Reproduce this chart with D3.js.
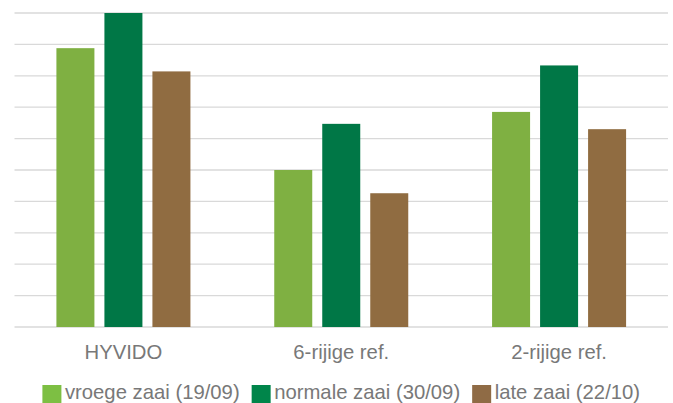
<!DOCTYPE html>
<html>
<head>
<meta charset="utf-8">
<script src="https://cdn.jsdelivr.net/npm/d3@7"></script>
<style>
  body { margin: 0; background: #fff; }
  svg { display: block; }
  svg text { font-family: Arial, "Liberation Sans", Helvetica, sans-serif; }
</style>
</head>
<body>
<div id="chart"></div>
<script>
// --- data ---
const categories = ["HYVIDO", "6-rijige ref.", "2-rijige ref."];
const seriesNames = ["vroege zaai (19/09)", "normale zaai (30/09)", "late zaai (22/10)"];
const vroege = [8.88, 5.0, 6.85];
const normale = [10.0, 6.47, 8.33];
const late = [8.14, 4.26, 6.30];
const colors = ["#7fb042", "#007746", "#906c41"];
const legendColors = ["#7dbf43", "#00854a", "#8f6b45"];

const width = 673, height = 403;
const plotLeft = 14.5, plotRight = 668, plotTop = 13, plotBottom = 327;

const svg = d3.select("#chart").append("svg")
    .attr("width", width)
    .attr("height", height);

const y = d3.scaleLinear().domain([0, 10]).range([plotBottom, plotTop]);

const x0 = d3.scaleBand()
    .domain(categories)
    .range([plotLeft, plotRight])
    .paddingInner(0.3848)
    .paddingOuter(0.1924);

const x1 = d3.scaleBand()
    .domain(d3.range(3))
    .range([0, x0.bandwidth()])
    .paddingInner(10 / 48)
    .paddingOuter(0);

// gridlines
svg.append("g")
  .selectAll("line")
  .data(y.ticks(10))
  .join("line")
    .attr("x1", plotLeft)
    .attr("x2", plotRight)
    .attr("y1", d => y(d))
    .attr("y2", d => y(d))
    .attr("stroke", "#d9d9d9")
    .attr("stroke-width", 1.3);

// bars
const rows = categories.map((c, i) => ({ cat: c, vals: [vroege[i], normale[i], late[i]] }));

svg.append("g")
  .selectAll("g")
  .data(rows)
  .join("g")
    .attr("transform", d => `translate(${x0(d.cat)},0)`)
  .selectAll("rect")
  .data(d => d.vals.map((v, k) => ({ k, v })))
  .join("rect")
    .attr("x", d => x1(d.k))
    .attr("width", x1.bandwidth())
    .attr("y", d => y(d.v))
    .attr("height", d => y(0) - y(d.v))
    .attr("fill", d => colors[d.k]);

// category labels
svg.append("g")
  .selectAll("text")
  .data(categories)
  .join("text")
    .attr("x", d => x0(d) + x0.bandwidth() / 2)
    .attr("y", 359)
    .attr("text-anchor", "middle")
    .attr("font-size", "20.3px")
    .attr("fill", "#787878")
    .text(d => d);

// legend
const legend = svg.append("g");
const sq = 19, gapText = 3.5, gapItem = 12;
const items = legend.selectAll("g")
  .data(seriesNames)
  .join("g");
items.append("rect")
    .attr("width", sq)
    .attr("height", sq)
    .attr("y", 385)
    .attr("fill", (d, i) => legendColors[i]);
items.append("text")
    .attr("x", sq + gapText)
    .attr("y", 399)
    .attr("font-size", "20.3px")
    .attr("fill", "#787878")
    .text(d => d);

let pos = 0;
const offsets = [];
items.each(function() {
  offsets.push(pos);
  const w = d3.select(this).select("text").node().getComputedTextLength();
  pos += sq + gapText + w + gapItem;
});
const total = pos - gapItem;
const startX = (plotLeft + plotRight) / 2 - total / 2;
items.attr("transform", (d, i) => `translate(${startX + offsets[i]},0)`);
</script>
</body>
</html>
